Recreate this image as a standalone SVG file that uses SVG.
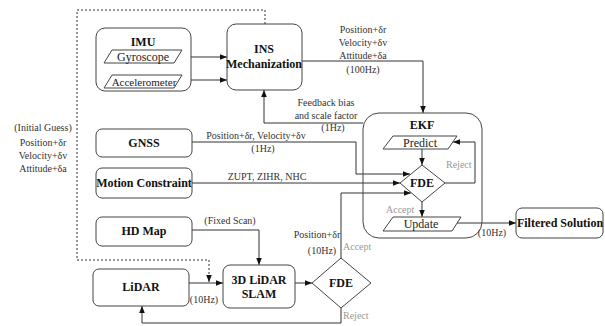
<svg xmlns="http://www.w3.org/2000/svg" width="605" height="326" viewBox="0 0 605 326" font-family="Liberation Serif, Times New Roman, serif">
<defs>
<marker id="ah" viewBox="0 0 10 10" refX="10" refY="5" markerWidth="7" markerHeight="7" markerUnits="userSpaceOnUse" orient="auto">
<path d="M0,1 L10,5 L0,9 z" fill="#111"/>
</marker>
</defs>
<style>
.box{fill:#fff;stroke:#444;stroke-width:1}
.shape{fill:#fff;stroke:#444;stroke-width:1}
.b{font-weight:bold;font-size:12px;fill:#111;text-anchor:middle}
.t{font-size:12px;fill:#222;text-anchor:middle}
.l{font-size:10px;fill:#333;text-anchor:middle}
.g{font-size:10px;fill:#999}
.c{fill:none;stroke:#333;stroke-width:1}
.d{fill:none;stroke:#333;stroke-width:1;stroke-dasharray:2,2}
</style>
<rect width="605" height="326" fill="#fff"/>

<g id="connectors">
<path class="d" d="M265,24 V10 H77 V260 H209 V282" marker-end="url(#ah)"/>
<path class="c" d="M178,57 H227" marker-end="url(#ah)"/>
<path class="c" d="M176,80 H227" marker-end="url(#ah)"/>
<path class="c" d="M302,61 H423 V113" marker-end="url(#ah)"/>
<path class="c" d="M363,123 H264 V90" marker-end="url(#ah)"/>
<path class="c" d="M192,142 H356 V174 H410" marker-end="url(#ah)"/>
<path class="c" d="M192,183 H400" marker-end="url(#ah)"/>
<path class="c" d="M341,258 V193 H411" marker-end="url(#ah)"/>
<path class="c" d="M422,149 V165" marker-end="url(#ah)"/>
<path class="c" d="M445,183 H475 V142 H453" marker-end="url(#ah)"/>
<path class="c" d="M422,202 V217" marker-end="url(#ah)"/>
<path class="c" d="M456,223 H516" marker-end="url(#ah)"/>
<path class="c" d="M192,230 H259 V265" marker-end="url(#ah)"/>
<path class="c" d="M189,283 H223" marker-end="url(#ah)"/>
<path class="c" d="M295,283 H312" marker-end="url(#ah)"/>
<path class="c" d="M341,308 V323 H142 V306" marker-end="url(#ah)"/>
</g>

<g id="labels">
<text class="l" x="43" y="131">(Initial Guess)</text>
<text class="l" x="43" y="146">Position+δr</text>
<text class="l" x="43" y="159">Velocity+δv</text>
<text class="l" x="43" y="172">Attitude+δa</text>
<text class="l" x="363" y="33">Position+δr</text>
<text class="l" x="363" y="46">Velocity+δv</text>
<text class="l" x="363" y="59">Attitude+δa</text>
<text class="l" x="363" y="73">(100Hz)</text>
<text class="l" x="326" y="106">Feedback bias</text>
<text class="l" x="326" y="119">and scale factor</text>
<text class="l" x="333" y="131">(1Hz)</text>
<text class="l" x="256" y="139">Position+δr, Velocity+δv</text>
<text class="l" x="263" y="152">(1Hz)</text>
<text class="l" x="267" y="180">ZUPT, ZIHR, NHC</text>
<text class="l" x="230" y="224">(Fixed Scan)</text>
<text class="l" x="204" y="303">(10Hz)</text>
<text class="l" x="317" y="238">Position+δr</text>
<text class="l" x="322" y="254">(10Hz)</text>
<text class="l" x="492" y="236">(10Hz)</text>
<text class="g" x="343" y="250">Accept</text>
<text class="g" x="343" y="319">Reject</text>
<text class="g" x="386" y="213">Accept</text>
<text class="g" x="446" y="168">Reject</text>
</g>

<g id="imu">
<rect class="box" x="96" y="28" width="95" height="63" rx="9"/>
<text class="b" x="143" y="46">IMU</text>
</g>
<g id="gyroscope">
<polygon class="shape" points="112,50 182,50 174,63 104,63"/>
<text class="t" x="143" y="61">Gyroscope</text>
</g>
<g id="accelerometer">
<polygon class="shape" points="112,75 182,75 174,88 104,88"/>
<text class="t" x="144" y="86" style="font-size:11px">Accelerometer</text>
</g>
<g id="ins">
<rect class="box" x="227" y="24" width="75" height="66" rx="9"/>
<text class="b" x="264" y="53">INS</text>
<text class="b" x="264" y="68">Mechanization</text>
</g>
<g id="gnss">
<rect class="box" x="96" y="129" width="96" height="28" rx="6"/>
<text class="b" x="144" y="147">GNSS</text>
</g>
<g id="motion">
<rect class="box" x="96" y="168" width="96" height="30" rx="6"/>
<text class="b" x="144" y="187">Motion Constraint</text>
</g>
<g id="hdmap">
<rect class="box" x="96" y="217" width="96" height="29" rx="6"/>
<text class="b" x="144" y="235">HD Map</text>
</g>
<g id="lidar">
<rect class="box" x="93" y="269" width="96" height="37" rx="6"/>
<text class="b" x="141" y="291">LiDAR</text>
</g>
<g id="slam">
<rect class="box" x="223" y="265" width="72" height="43" rx="7"/>
<text class="b" x="259" y="284">3D LiDAR</text>
<text class="b" x="259" y="298">SLAM</text>
</g>
<g id="fde2">
<polygon class="shape" points="341,258 371,283 341,308 312,283"/>
<text class="b" x="341" y="287">FDE</text>
</g>
<g id="ekf">
<rect x="363" y="113" width="119" height="125" rx="16" style="fill:none;stroke:#444;stroke-width:1"/>
<text class="b" x="422" y="129">EKF</text>
</g>
<g id="predict">
<polygon class="shape" points="393,136 457,136 448,149 383,149"/>
<text class="t" x="420" y="147">Predict</text>
</g>
<g id="fde1">
<polygon class="shape" points="422,165 445,183 422,202 400,183"/>
<text class="b" x="422" y="187">FDE</text>
</g>
<g id="update">
<polygon class="shape" points="393,217 461,217 452,231 383,231"/>
<text class="t" x="421" y="228">Update</text>
</g>
<g id="filtered">
<rect class="box" x="516" y="208" width="87" height="30" rx="6"/>
<text class="b" x="560" y="227">Filtered Solution</text>
</g>
</svg>
